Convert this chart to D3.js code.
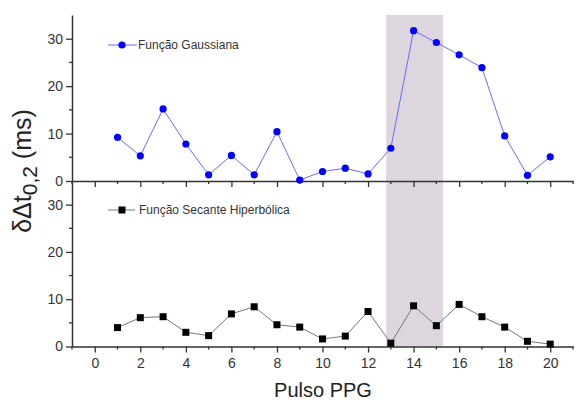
<!DOCTYPE html>
<html>
<head>
<meta charset="utf-8">
<script src="https://cdn.jsdelivr.net/npm/d3@7"></script>
<style>
  body { margin: 0; background: #fff; }
  svg { font-family: "Liberation Sans", Arial, sans-serif; }
</style>
</head>
<body>
<svg id="chart" width="576" height="400"></svg>
<script>
const pulses = d3.range(1, 21);
const gaussian = [9.2, 5.3, 15.2, 7.8, 1.3, 5.4, 1.3, 10.4, 0.2, 2.0,
                  2.7, 1.5, 6.9, 31.7, 29.2, 26.6, 23.9, 9.5, 1.2, 5.1];
const secante = [4.0, 6.1, 6.3, 3.0, 2.3, 6.9, 8.4, 4.6, 4.1, 1.6,
                 2.2, 7.4, 0.7, 8.6, 4.4, 8.9, 6.3, 4.1, 1.1, 0.5];
const xTicks = d3.range(0, 21, 2);
const yTicks = [0, 10, 20, 30];
const shadeRange = [12.8, 15.3];

const svg = d3.select('#chart');

const x = d3.scaleLinear().domain([-1, 21]).range([72, 573]);
const yTop = d3.scaleLinear().domain([0, 35]).range([181, 15]);
const yBot = d3.scaleLinear().domain([0, 35]).range([346.5, 181]);

// highlighted pulses
svg.append('rect')
  .attr('x', x(shadeRange[0]))
  .attr('y', yTop(35))
  .attr('width', x(shadeRange[1]) - x(shadeRange[0]))
  .attr('height', yBot(0) - yTop(35))
  .attr('fill', '#ddd6de');

const drawYAxis = (scale) => {
  const g = svg.append('g').attr('transform', `translate(${x(-1)},0)`);
  g.call(d3.axisLeft(scale).tickValues(yTicks).tickSize(6).tickPadding(3).tickSizeOuter(0));
  g.select('.domain').attr('stroke', '#333').attr('stroke-width', 1.5);
  g.selectAll('.tick line').attr('stroke', '#333').attr('stroke-width', 1.3);
  g.selectAll('.tick text').attr('fill', '#333').style('font-size', '14px');
  g.selectAll('.minor')
    .data([5, 15, 25])
    .join('line')
    .attr('x1', -3).attr('x2', 0)
    .attr('y1', d => scale(d)).attr('y2', d => scale(d))
    .attr('stroke', '#333').attr('stroke-width', 1.3);
};

const drawXAxis = (yPos, withLabels) => {
  const g = svg.append('g').attr('transform', `translate(0,${yPos})`);
  g.call(d3.axisBottom(x).tickValues(xTicks).tickSize(6).tickPadding(6).tickSizeOuter(0));
  g.select('.domain').attr('stroke', '#333').attr('stroke-width', 1.5);
  g.selectAll('.tick line').attr('stroke', '#333').attr('stroke-width', 1.3);
  g.selectAll('.tick text')
    .attr('fill', '#333')
    .style('font-size', '14px')
    .text(d => withLabels ? d : '');
  g.selectAll('.minor')
    .data(d3.range(-1, 22, 2))
    .join('line')
    .attr('x1', d => x(d)).attr('x2', d => x(d))
    .attr('y1', 0).attr('y2', 3)
    .attr('stroke', '#333').attr('stroke-width', 1.3);
};

drawYAxis(yTop);
drawYAxis(yBot);
drawXAxis(yTop(0), false);
drawXAxis(yBot(0), true);

// Gaussian series
svg.append('path')
  .datum(gaussian)
  .attr('fill', 'none')
  .attr('stroke', '#6b6bff')
  .attr('stroke-width', 1)
  .attr('d', d3.line().x((d, i) => x(pulses[i])).y(d => yTop(d)));

svg.append('g')
  .selectAll('circle')
  .data(gaussian)
  .join('circle')
  .attr('cx', (d, i) => x(pulses[i]))
  .attr('cy', d => yTop(d))
  .attr('r', 3.6)
  .attr('fill', '#0000ff');

// Secante series
svg.append('path')
  .datum(secante)
  .attr('fill', 'none')
  .attr('stroke', '#777')
  .attr('stroke-width', 1)
  .attr('d', d3.line().x((d, i) => x(pulses[i])).y(d => yBot(d)));

svg.append('g')
  .selectAll('rect')
  .data(secante)
  .join('rect')
  .attr('x', (d, i) => x(pulses[i]) - 3.5)
  .attr('y', d => yBot(d) - 3.5)
  .attr('width', 7)
  .attr('height', 7)
  .attr('fill', '#000');

// legends
const legendTop = svg.append('g').attr('transform', 'translate(108,45)');
legendTop.append('line').attr('x1', 0).attr('x2', 29).attr('stroke', '#6b6bff');
legendTop.append('circle').attr('cx', 14).attr('r', 3.6).attr('fill', '#0000ff');
legendTop.append('text').attr('x', 30).attr('y', 4)
  .style('font-size', '12px').attr('fill', '#333').text('Função Gaussiana');

const legendBot = svg.append('g').attr('transform', 'translate(108,210)');
legendBot.append('line').attr('x1', 0).attr('x2', 27).attr('stroke', '#777');
legendBot.append('rect').attr('x', 10.5).attr('y', -3.5).attr('width', 7).attr('height', 7).attr('fill', '#000');
legendBot.append('text').attr('x', 31).attr('y', 4)
  .style('font-size', '12px').attr('fill', '#333').text('Função Secante Hiperbólica');

// axis titles
svg.append('text')
  .attr('x', 323).attr('y', 397)
  .attr('text-anchor', 'middle')
  .style('font-size', '20px').attr('fill', '#222')
  .text('Pulso PPG');

const yTitle = svg.append('text')
  .attr('transform', 'translate(31,171) rotate(-90)')
  .attr('text-anchor', 'middle')
  .style('font-size', '25px').attr('fill', '#222');
yTitle.append('tspan').text('δΔt');
yTitle.append('tspan').attr('dy', 6).style('font-size', '21px').text('0,2');
yTitle.append('tspan').attr('dy', -6).text(' (ms)');
</script>
</body>
</html>
